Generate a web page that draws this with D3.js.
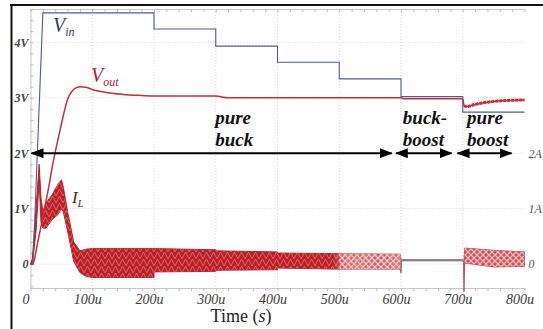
<!DOCTYPE html>
<html>
<head>
<meta charset="utf-8">
<script src="https://cdn.jsdelivr.net/npm/d3@7"></script>
<style>
  body { margin: 0; background: #fff; }
  svg { display: block; }
  text { font-family: "Liberation Serif", "Times New Roman", serif; }
</style>
</head>
<body>
<div id="chart"></div>
<script>
// time is in microseconds, voltages in V, current in A
const timeTicks = [0, 100, 200, 300, 400, 500, 600, 700, 800];
const timeTickLabels = ['0', '100u', '200u', '300u', '400u', '500u', '600u', '700u', '800u'];
const voltTicks = [0, 1, 2, 3, 4];
const voltTickLabels = ['0', '1V', '2V', '3V', '4V'];
const ampTicks = [0, 1, 2];
const ampTickLabels = ['0', '1A', '2A'];

// input voltage (blue)
const vinTime  = [0, 4, 20, 200, 200, 300, 300, 400, 400, 500, 500, 600, 600, 700, 700, 800];
const vinVolts = [0, 0, 4.53, 4.53, 4.24, 4.24, 3.93, 3.93, 3.64, 3.64, 3.34, 3.34, 3.02, 3.02, 2.74, 2.74];

// output voltage (red)
const voutTime  = [0, 4, 10, 20, 30, 36, 42, 48, 54, 61, 66, 72, 80, 90, 100, 120, 150, 180, 200, 300, 320, 400, 500, 600, 605, 700, 702, 706, 720, 740, 770, 800];
const voutVolts = [0, 0, 0.3, 0.85, 1.42, 1.8, 2.12, 2.42, 2.72, 3.0, 3.1, 3.17, 3.2, 3.19, 3.15, 3.1, 3.06, 3.04, 3.03, 3.03, 3.0, 3.0, 3.0, 3.0, 2.98, 2.98, 2.86, 2.84, 2.88, 2.92, 2.95, 2.96];

// inductor current ripple envelope (dark red band)
const ilTime = [0, 3, 9, 14, 17, 20, 25, 35, 45, 50, 53, 60, 70, 80, 90, 100, 200, 200, 300, 300, 400, 400, 500, 599, 600, 601, 700, 701, 702, 703, 750, 800];
const ilHigh = [0, 0.1, 1.0, 1.8, 1.2, 0.95, 1.1, 1.25, 1.45, 1.52, 1.4, 0.95, 0.4, 0.24, 0.27, 0.28, 0.28, 0.28, 0.26, 0.24, 0.22, 0.2, 0.19, 0.18, 0.08, 0.08, 0.08, 0.06, 0.06, 0.29, 0.25, 0.22];
const ilLow  = [0, 0, 0.6, 1.5, 0.75, 0.65, 0.65, 0.8, 0.9, 1.0, 0.95, 0.6, 0.05, -0.15, -0.22, -0.24, -0.24, -0.14, -0.13, -0.11, -0.1, -0.07, -0.09, -0.09, -0.16, 0.06, 0.06, 0.06, -0.5, 0.02, -0.05, -0.04];

// operating modes
const modeRanges = [[0, 585], [590, 682], [690, 779]];
const modeNames = [['pure', 'buck'], ['buck-', 'boost'], ['pure', 'boost']];
const modeLabelTime = [299, 603, 707];
const arrowLevel = 2;

const width = 543, height = 329;
const plot = { left: 30.5, right: 524.5, top: 9, bottom: 288 };

const svg = d3.select('#chart').append('svg')
  .attr('width', width)
  .attr('height', height);

const x = d3.scaleLinear().domain([0, 800]).range([plot.left, plot.right]);
const yV = d3.scaleLinear().domain([-0.43, 4.6]).range([plot.bottom, plot.top]);
const yA = d3.scaleLinear().domain([-0.43, 4.6]).range([plot.bottom, plot.top]);

const defs = svg.append('defs');

// arrow heads
defs.append('marker')
  .attr('id', 'head')
  .attr('viewBox', '0 0 13 10')
  .attr('refX', 12).attr('refY', 5)
  .attr('markerWidth', 13).attr('markerHeight', 10)
  .attr('markerUnits', 'userSpaceOnUse')
  .attr('orient', 'auto-start-reverse')
  .append('path')
  .attr('d', 'M0,0 L13,5 L0,10 Z')
  .attr('fill', '#000');

// band colour fades where the ripple gets sparse
const grad = defs.append('linearGradient')
  .attr('id', 'ilFill')
  .attr('gradientUnits', 'userSpaceOnUse')
  .attr('x1', x(0)).attr('x2', x(800)).attr('y1', 0).attr('y2', 0);
[[0, '#bc1f26', 1], [490, '#bc1f26', 1], [505, '#c9444b', 0.85], [600, '#c9444b', 0.85],
 [601, '#8c6f70', 1], [702, '#8c6f70', 1], [703, '#c8343c', 0.85], [800, '#c8343c', 0.85]]
  .forEach(s => grad.append('stop')
    .attr('offset', s[0] / 800)
    .attr('stop-color', s[1])
    .attr('stop-opacity', s[2]));

// switching ripple texture
const rip = defs.append('pattern')
  .attr('id', 'ripple')
  .attr('patternUnits', 'userSpaceOnUse')
  .attr('width', 7).attr('height', 7);
rip.append('path')
  .attr('d', 'M0,7 L3.5,0 L7,7')
  .attr('fill', 'none')
  .attr('stroke', '#f3b4b4')
  .attr('stroke-width', 0.9);
const ripW = defs.append('pattern')
  .attr('id', 'rippleLight')
  .attr('patternUnits', 'userSpaceOnUse')
  .attr('width', 6).attr('height', 6);
ripW.append('path')
  .attr('d', 'M0,0 L6,6 M6,0 L0,6')
  .attr('fill', 'none')
  .attr('stroke', '#fff')
  .attr('stroke-width', 1.3);

// grid
const grid = svg.append('g').attr('stroke', '#d4d4d4').attr('stroke-dasharray', '1,2');
grid.selectAll('.hg').data(voltTicks).join('line')
  .attr('x1', plot.left).attr('x2', plot.right)
  .attr('y1', d => yV(d)).attr('y2', d => yV(d));
grid.selectAll('.vg').data(timeTicks.slice(1, 8)).join('line')
  .attr('x1', d => x(d)).attr('x2', d => x(d))
  .attr('y1', plot.top).attr('y2', plot.bottom);

// axis frame with minor ticks
const minorT = d3.range(0, 801, 20);
const axB = svg.append('g')
  .attr('transform', `translate(0, ${plot.bottom})`)
  .call(d3.axisBottom(x).tickValues(minorT).tickSize(3).tickSizeOuter(0).tickFormat(''));
const axT = svg.append('g')
  .attr('transform', `translate(0, ${plot.top})`)
  .call(d3.axisTop(x).tickValues(minorT).tickSize(-3).tickSizeOuter(0).tickFormat(''));
const axL = svg.append('g')
  .attr('transform', `translate(${plot.left}, 0)`)
  .call(d3.axisLeft(yV).tickValues(d3.range(-0.4, 4.61, 0.2)).tickSize(-3).tickSizeOuter(0).tickFormat(''));
[axB, axT, axL].forEach(a => {
  a.select('.domain').attr('stroke', '#c8c8c8');
  a.selectAll('.tick line').attr('stroke', '#bbb');
});

// bottom tick labels
svg.append('g')
  .attr('transform', `translate(-5, ${plot.bottom})`)
  .call(d3.axisBottom(x).tickValues(timeTicks).tickSize(0).tickPadding(6)
    .tickFormat((d, i) => timeTickLabels[i]))
  .call(g => g.select('.domain').remove())
  .selectAll('text')
  .attr('font-style', 'italic')
  .attr('font-size', 14)
  .attr('fill', '#3a3a3a');

// left tick labels
svg.append('g')
  .attr('transform', `translate(${plot.left}, 0)`)
  .call(d3.axisLeft(yV).tickValues(voltTicks).tickSize(0).tickPadding(2)
    .tickFormat((d, i) => voltTickLabels[i]))
  .call(g => g.select('.domain').remove())
  .selectAll('text')
  .attr('font-style', 'italic')
  .attr('font-weight', 'bold')
  .attr('font-size', 12)
  .attr('fill', '#444');

// right tick labels
svg.append('g')
  .attr('transform', `translate(${plot.right + 2}, 0)`)
  .call(d3.axisRight(yA).tickValues(ampTicks).tickSize(0).tickPadding(2)
    .tickFormat((d, i) => ampTickLabels[i]))
  .call(g => g.select('.domain').remove())
  .selectAll('text')
  .attr('font-style', 'italic')
  .attr('font-size', 12)
  .attr('fill', '#555');

// inductor current band
const ilData = ilTime.map((t, i) => ({ t, hi: ilHigh[i], lo: ilLow[i] }));
const ilArea = d3.area()
  .x(d => x(d.t))
  .y0(d => yA(d.lo))
  .y1(d => yA(d.hi));
svg.append('path')
  .datum(ilData)
  .attr('fill', 'url(#ilFill)')
  .attr('stroke', 'url(#ilFill)')
  .attr('stroke-width', 1)
  .attr('d', ilArea);
svg.append('path')
  .datum(ilData.filter(d => d.t >= 20 && d.t <= 599))
  .attr('fill', 'url(#ripple)')
  .attr('opacity', 0.55)
  .attr('d', ilArea);
svg.append('path')
  .datum(ilData.filter(d => d.t >= 500 && d.t <= 599))
  .attr('fill', 'url(#rippleLight)')
  .attr('opacity', 0.6)
  .attr('d', ilArea);
svg.append('path')
  .datum(ilData.filter(d => d.t >= 703))
  .attr('fill', 'url(#rippleLight)')
  .attr('opacity', 0.6)
  .attr('d', ilArea);

// input voltage
const vinData = vinTime.map((t, i) => [t, vinVolts[i]]);
svg.append('path')
  .datum(vinData)
  .attr('fill', 'none')
  .attr('stroke', '#4d5c9e')
  .attr('stroke-width', 1.1)
  .attr('d', d3.line().x(d => x(d[0])).y(d => yV(d[1])));

// output voltage
const voutData = voutTime.map((t, i) => [t, voutVolts[i]]);
const voutLine = d3.line().x(d => x(d[0])).y(d => yV(d[1])).curve(d3.curveMonotoneX);
svg.append('path')
  .datum(voutData)
  .attr('fill', 'none')
  .attr('stroke', '#c4303a')
  .attr('stroke-width', 1.5)
  .attr('d', voutLine);
svg.append('path')
  .datum(voutData.filter(d => d[0] >= 702))
  .attr('fill', 'none')
  .attr('stroke', '#c4303a')
  .attr('stroke-width', 3)
  .attr('stroke-dasharray', '3,1')
  .attr('d', voutLine);

// mode arrows
svg.append('g').selectAll('line').data(modeRanges).join('line')
  .attr('x1', d => x(d[0]) + 1).attr('x2', d => x(d[1]))
  .attr('y1', yV(arrowLevel)).attr('y2', yV(arrowLevel))
  .attr('stroke', '#000')
  .attr('stroke-width', 2)
  .attr('marker-start', 'url(#head)')
  .attr('marker-end', 'url(#head)');

// mode labels
const modeG = svg.append('g')
  .attr('font-weight', 'bold')
  .attr('font-style', 'italic')
  .attr('font-size', 19)
  .attr('fill', '#111');
modeNames.forEach((lines, i) => {
  lines.forEach((s, j) => {
    modeG.append('text')
      .attr('x', x(modeLabelTime[i]))
      .attr('y', 124 + j * 22)
      .text(s);
  });
});

// series labels
function seriesLabel(px, py, main, sub, color, size) {
  const t = svg.append('text')
    .attr('x', px).attr('y', py)
    .attr('fill', color)
    .attr('font-style', 'italic')
    .attr('font-size', size);
  t.append('tspan').text(main);
  t.append('tspan').attr('dy', 4).attr('font-size', size * 0.6).text(sub);
}
seriesLabel(53, 32, 'V', 'in', '#2b3a6e', 20);
seriesLabel(91, 82, 'V', 'out', '#b3202e', 20);
seriesLabel(72, 203, 'I', 'L', '#4a2424', 17);

// x axis title
const title = svg.append('text')
  .attr('x', 241).attr('y', 322)
  .attr('text-anchor', 'middle')
  .attr('font-size', 18)
  .attr('fill', '#222');
title.append('tspan').text('Time (');
title.append('tspan').attr('font-style', 'italic').text('s');
title.append('tspan').text(')');

// picture border
svg.append('line').attr('x1', 10).attr('x2', width).attr('y1', 5).attr('y2', 5)
  .attr('stroke', '#111').attr('stroke-width', 2);
svg.append('line').attr('x1', 11.5).attr('x2', 11.5).attr('y1', 5).attr('y2', height)
  .attr('stroke', '#111').attr('stroke-width', 2);
</script>
</body>
</html>
